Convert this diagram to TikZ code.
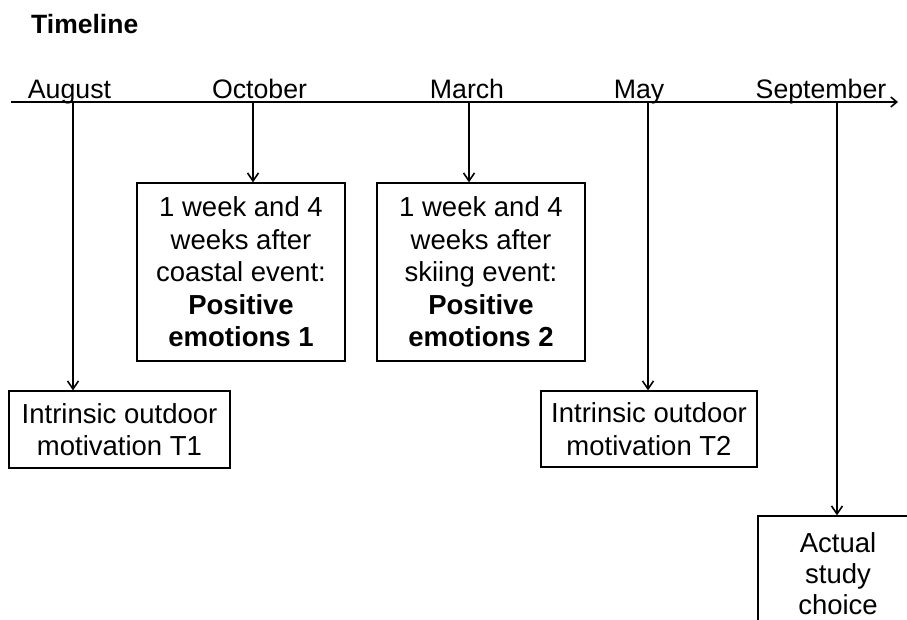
\documentclass[tikz,border=0pt]{standalone}
\usepackage{fontspec}
\setmainfont{Liberation Sans}
\usetikzlibrary{arrows.meta}
\begin{document}
\begin{tikzpicture}[x=1pt,y=-1pt,
  ln/.style={line width=1.6pt},
  arr/.style={ln,-{Straight Barb[length=8pt,width=11pt,line width=1.6pt]}},
  box/.style={draw,line width=1.3pt,align=center,inner sep=0pt,font=\fontsize{27.5}{32.5}\selectfont},
  month/.style={anchor=base,inner sep=0pt,font=\fontsize{26.7}{30}\selectfont},
]
\useasboundingbox (0,0) rectangle (907,620);
\clip (0,0) rectangle (907,620);
\node[anchor=base west, inner sep=0pt, font=\bfseries\fontsize{26.5}{30}\selectfont] (title) at (31,34) {Timeline};

% axis
\coordinate (L) at (11,102);
\coordinate (R) at (898,102);
\draw[ln,-{Straight Barb[length=6pt,width=10pt,line width=1.6pt]}] (L) -- (R);

% months
\node[month] (aug) at (69.5,99) {August};
\node[month] (oct) at (259.5,99) {October};
\node[month] (mar) at (467,99) {March};
\node[month] (may) at (639,99) {May};
\node[month] (sep) at (821,99) {September};

% arrow starts on the axis
\coordinate (aA) at (73,102);
\coordinate (aO) at (253,102);
\coordinate (aM) at (469,102);
\coordinate (aY) at (648,102);
\coordinate (aS) at (837,102);

% boxes
\node[box, minimum width=221pt, minimum height=77pt] (t1) at (119.5,429.5) {Intrinsic outdoor\\motivation T1};
\node[box, minimum width=208pt, minimum height=178pt] (pe1) at (241,272) {1 week and 4\\weeks after\\coastal event:\\\textbf{Positive}\\\textbf{emotions 1}};
\node[box, minimum width=208pt, minimum height=178pt] (pe2) at (481,272) {1 week and 4\\weeks after\\skiing event:\\\textbf{Positive}\\\textbf{emotions 2}};
\node[box, minimum width=216pt, minimum height=76pt] (t2) at (649,429) {Intrinsic outdoor\\motivation T2};
\node[box, minimum width=160pt, minimum height=116pt, font=\fontsize{27.5}{31}\selectfont] (asc) at (838,574) {Actual\\study\\choice};

% connectors
\draw[arr] (aA) -- (aA |- t1.north);
\draw[arr] (aO) -- (aO |- pe1.north);
\draw[arr] (aM) -- (aM |- pe2.north);
\draw[arr] (aY) -- (aY |- t2.north);
\draw[arr] (aS) -- (aS |- asc.north);
\end{tikzpicture}
\end{document}
